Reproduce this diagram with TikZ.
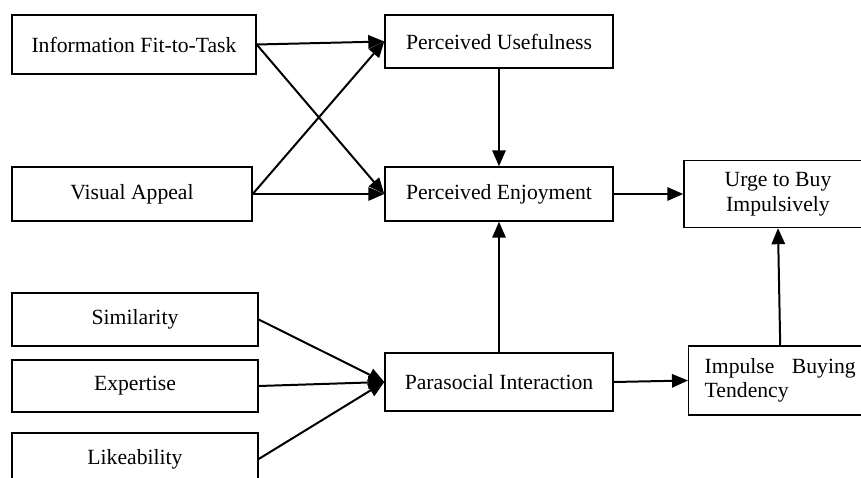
\documentclass[tikz,border=0pt]{standalone}
\usepackage{fontspec}
\setmainfont{Liberation Serif}
\usetikzlibrary{positioning,calc}
\usetikzlibrary{arrows.meta}

\tikzset{box/.style={draw, line width=1.2pt, inner sep=0pt, font=\fontsize{18.5}{21}\selectfont}}

\begin{document}
\begin{tikzpicture}[x=0.03cm, y=-0.03cm, >={Triangle[length=0.48cm,width=0.4cm]}, line width=1.7pt]
\useasboundingbox (0,0) rectangle (861,478);
% left column
\node [box, minimum width=7.32cm, minimum height=1.77cm] (info) at (134,44.5) {Information Fit-to-Task};
\node [box, minimum width=7.2cm, minimum height=1.62cm] (visual) at (132,194) {Visual Appeal};
\node [box, minimum width=7.38cm, minimum height=1.59cm] (simil) at (135,319.5) {Similarity};
\node [box, minimum width=7.38cm, minimum height=1.56cm] (expert) at (135,386) {Expertise};
\node [box, minimum width=7.38cm, minimum height=1.56cm] (likeab) at (135,459) {Likeability};
% middle column
\node [box, minimum width=6.84cm, minimum height=1.59cm] (useful) at (499,41.5) {Perceived Usefulness};
\node [box, minimum width=6.84cm, minimum height=1.62cm] (enjoy) at (499,194) {Perceived Enjoyment};
\node [box, minimum width=6.84cm, minimum height=1.74cm] (parasoc) at (499,382) {Parasocial Interaction};
% right column
\node [box, minimum width=5.64cm, minimum height=2.01cm, align=center] (urge) at (778,194) {Urge to Buy\\Impulsively};
\node [box, anchor=west, text width=4.53cm, inner xsep=0.48cm, minimum height=2.07cm, align=left] (tendency) at (688,380.5) {Impulse\hfill Buying\\Tendency};

\draw [->] (info.east) -- (useful.west);
\draw [->] (info.east) -- (enjoy.west);
\draw [->] (visual.east) -- (useful.west);
\draw [->] (visual.east) -- (enjoy.west);
\draw [->] (useful.south) -- (enjoy.north);
\draw [->] (parasoc.north) -- (enjoy.south);
\draw [->] (enjoy.east) -- (urge.west);
\draw [->] (parasoc.east) -- (tendency.west);
\draw [->] (tendency.north) -- (urge.south);
\draw [->] (simil.east) -- (parasoc.west);
\draw [->] (expert.east) -- (parasoc.west);
\draw [->] (likeab.east) -- (parasoc.west);
\end{tikzpicture}
\end{document}
